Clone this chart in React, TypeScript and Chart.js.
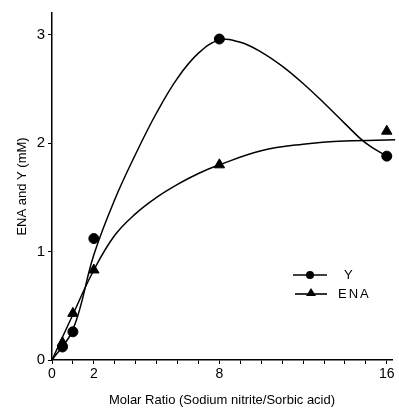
import React, { useEffect, useRef } from "react";
import { Chart, registerables } from "chart.js";

Chart.register(...registerables);

// Measured points (Molar ratio vs concentration, mM)
const molarRatio = [0.5, 1, 2, 8, 16];
const yValues = [0.12, 0.26, 1.12, 2.96, 1.88];
const enaValues = [0.16, 0.43, 0.83, 1.8, 2.11];

// Hand-drawn fitted curves
const yCurveX = [0, 1, 2, 3, 4, 5, 6, 7, 8, 9, 10, 11, 12, 13, 14, 15, 16];
const yCurveY = [0, 0.28, 0.97, 1.48, 1.9, 2.28, 2.6, 2.83, 2.95, 2.93, 2.84, 2.71, 2.55, 2.37, 2.18, 2.0, 1.88];
const enaCurveX = [0, 1, 2, 3, 4, 5, 6, 7, 8, 10, 12, 14, 16.4];
const enaCurveY = [0, 0.42, 0.83, 1.15, 1.35, 1.5, 1.62, 1.72, 1.8, 1.93, 1.99, 2.02, 2.03];

const xTickValues = [0, 1, 2, 3, 4, 5, 6, 7, 8, 9, 10, 11, 12, 13, 14, 15, 16];
const xTickLabels = [0, 2, 8, 16];
const yTickValues = [0, 1, 2, 3];

const seriesNames = ["Y", "ENA"];

const FONT = "'Liberation Sans', Arial, sans-serif";

const pairs = (xs: number[], ys: number[]) => xs.map((x, i) => ({ x, y: ys[i] }));

const legendPlugin = {
  id: "customLegend",
  afterDraw(chart: any) {
    const ctx = chart.ctx;
    ctx.save();
    ctx.strokeStyle = "#000";
    ctx.fillStyle = "#000";
    ctx.lineWidth = 1.6;
    // Y entry
    ctx.beginPath();
    ctx.moveTo(293, 275);
    ctx.lineTo(327, 275);
    ctx.stroke();
    ctx.beginPath();
    ctx.arc(310, 275, 4, 0, Math.PI * 2);
    ctx.fill();
    // ENA entry
    ctx.beginPath();
    ctx.moveTo(295, 294);
    ctx.lineTo(327, 294);
    ctx.stroke();
    ctx.beginPath();
    ctx.moveTo(311, 288);
    ctx.lineTo(316, 296);
    ctx.lineTo(306, 296);
    ctx.closePath();
    ctx.fill();
    ctx.font = `13px ${FONT}`;
    ctx.textBaseline = "middle";
    ctx.textAlign = "left";
    (ctx as any).letterSpacing = "2px";
    ctx.fillText(seriesNames[0], 344, 275);
    ctx.fillText(seriesNames[1], 338, 294);
    ctx.restore();
  },
};

export default function App() {
  const ref = useRef<HTMLCanvasElement>(null);
  useEffect(() => {
    document.body.style.margin = "0";
    const canvas = ref.current!;
    const chart = new Chart(canvas, {
      type: "scatter",
      data: {
        datasets: [
          {
            label: "Y curve",
            data: pairs(yCurveX, yCurveY),
            showLine: true,
            borderColor: "#000",
            borderWidth: 1.5,
            pointRadius: 0,
            tension: 0.4,
            clip: 10,
          } as any,
          {
            label: "ENA curve",
            data: pairs(enaCurveX, enaCurveY),
            showLine: true,
            borderColor: "#000",
            borderWidth: 1.5,
            pointRadius: 0,
            tension: 0.4,
            clip: 10,
          } as any,
          {
            label: seriesNames[0],
            data: pairs(molarRatio, yValues),
            showLine: false,
            pointStyle: "circle",
            pointRadius: 5,
            backgroundColor: "#000",
            borderColor: "#000",
            clip: 10,
          } as any,
          {
            label: seriesNames[1],
            data: pairs(molarRatio, enaValues),
            showLine: false,
            pointStyle: "triangle",
            pointRadius: 6,
            backgroundColor: "#000",
            borderColor: "#000",
            clip: 10,
          } as any,
        ],
      },
      options: {
        responsive: false,
        animation: false,
        devicePixelRatio: 1,
        layout: { padding: { top: 13, right: 4, left: 0, bottom: 0 } },
        plugins: {
          legend: { display: false },
          tooltip: { enabled: false },
        },
        scales: {
          x: {
            type: "linear",
            min: 0,
            max: 16.25,
            afterBuildTicks: (scale: any) => {
              scale.ticks = xTickValues.map((v) => ({ value: v }));
            },
            afterFit: (scale: any) => {
              scale.height = 52;
            },
            grid: {
              display: true,
              drawOnChartArea: false,
              drawTicks: true,
              tickLength: 4,
              color: "#000",
              lineWidth: 1,
            },
            border: { display: true, color: "#000", width: 1.5 },
            ticks: {
              color: "#000",
              padding: 2,
              maxRotation: 0,
              autoSkip: false,
              font: { family: FONT, size: 14 },
              callback: (v: any) => (xTickLabels.includes(Number(v)) ? String(v) : ""),
            },
            title: {
              display: true,
              text: "Molar Ratio (Sodium nitrite/Sorbic acid)",
              color: "#000",
              font: { family: FONT, size: 13 },
              padding: { top: 0, bottom: 4 },
            },
          },
          y: {
            type: "linear",
            min: 0,
            max: 3.2,
            afterBuildTicks: (scale: any) => {
              scale.ticks = yTickValues.map((v) => ({ value: v }));
            },
            afterFit: (scale: any) => {
              scale.width = 52;
            },
            grid: {
              display: true,
              drawOnChartArea: false,
              drawTicks: true,
              tickLength: 4,
              color: "#000",
              lineWidth: 1,
            },
            border: { display: true, color: "#000", width: 1.5 },
            ticks: {
              color: "#000",
              padding: 3,
              font: { family: FONT, size: 15 },
              callback: (v: any) => String(v),
            },
            title: {
              display: true,
              text: "ENA and Y (mM)",
              color: "#000",
              font: { family: FONT, size: 13 },
              padding: { top: 15, bottom: 0 },
            },
          },
        },
      } as any,
      plugins: [legendPlugin],
    });
    return () => chart.destroy();
  }, []);
  return (
    <div style={{ width: 399, height: 412, background: "#fff" }}>
      <canvas ref={ref} width={399} height={412} style={{ display: "block" }} />
    </div>
  );
}
